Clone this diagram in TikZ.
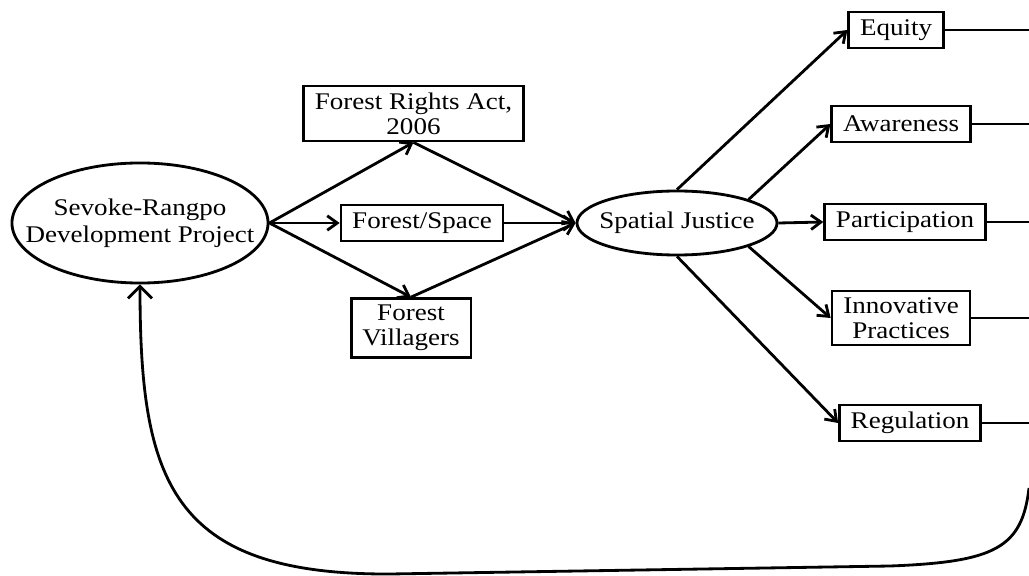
\documentclass[tikz,border=0pt]{standalone}
\usepackage{fontspec}
\setmainfont{Liberation Serif}[FakeStretch=1.13]
\usepackage{tikz}
\usetikzlibrary{shapes.geometric}
\usetikzlibrary{arrows.meta}
\pgfdeclarelayer{nodelayer}
\pgfdeclarelayer{edgelayer}
\pgfsetlayers{nodelayer,edgelayer,main}
\tikzset{
    none/.style = {inner sep=0pt},
    box/.style = {draw, line width=2pt, inner xsep=0.28cm, inner ysep=0.16cm,
        minimum height=0.9cm, align=center, font=\fontsize{17}{18}\selectfont},
    oval/.style = {draw, ellipse, line width=2pt, inner sep=0pt, align=center,
        font=\fontsize{17}{19}\selectfont},
    plain/.style = {line width=2pt},
    arrow/.style = {line width=2pt, -{Straight Barb[length=0.25cm, width=0.36cm]}},
    back/.style = {line width=2pt, -{Straight Barb[length=0.3cm, width=0.6cm]}}
}

\begin{document}
\begin{tikzpicture}[x=0.025cm, y=-0.025cm]
    \useasboundingbox (0, 0) rectangle (1029, 576);
    \begin{pgfonlayer}{nodelayer}
        \node [style=oval, inner xsep=-0.62cm, minimum width=6.4cm, minimum height=3cm] (0) at (140, 223) {Sevoke-Rangpo\\Development Project};
        \node [style=box] (1) at (413.5, 113.5) {Forest Rights Act,\\2006};
        \node [style=box] (2) at (422, 223) {Forest/Space};
        \node [style=box] (3) at (411, 328) {Forest\\Villagers};
        \node [style=oval, inner xsep=-0.2cm, minimum width=5cm, minimum height=1.6cm] (4) at (677, 223) {Spatial Justice};
        \node [style=box] (5) at (896, 30) {Equity};
        \node [style=box] (6) at (901, 124) {Awareness};
        \node [style=box] (7) at (905, 222) {Participation};
        \node [style=box] (8) at (901, 318) {Innovative\\Practices};
        \node [style=box] (9) at (910, 423) {Regulation};
        \node [style=none] (10) at (1029, 30) {};
        \node [style=none] (11) at (1029, 124) {};
        \node [style=none] (12) at (1029, 222) {};
        \node [style=none] (13) at (1029, 318) {};
        \node [style=none] (14) at (1029, 423) {};
        \node [style=none] (15) at (1029, 488) {};
    \end{pgfonlayer}
    \begin{pgfonlayer}{edgelayer}
        \draw [style=arrow] (0.east) to (1.south);
        \draw [style=arrow] (0.east) to (2.west);
        \draw [style=arrow] (0.east) to (3.north);
        \draw [style=arrow] (1.south) to (4.west);
        \draw [style=arrow] (2.east) to (4.west);
        \draw [style=arrow] (3.north) to (4.west);
        \draw [style=arrow] (4.north) to (5.west);
        \draw [style=arrow] (4.north east) to (6.west);
        \draw [style=arrow] (4.east) to (7.west);
        \draw [style=arrow] (4.south east) to (8.west);
        \draw [style=arrow] (4.south) to (9.west);
        \foreach \i/\j in {5/10, 6/11, 7/12, 8/13, 9/14}
            \draw [style=plain] (\i.east) to (\j.center);
        \draw [style=back] (15.center) .. controls (1022, 548) and (995, 562) .. (890, 566)
            -- (390, 574) .. controls (170, 575) and (140, 480) .. (0.south);
    \end{pgfonlayer}
\end{tikzpicture}
\end{document}
